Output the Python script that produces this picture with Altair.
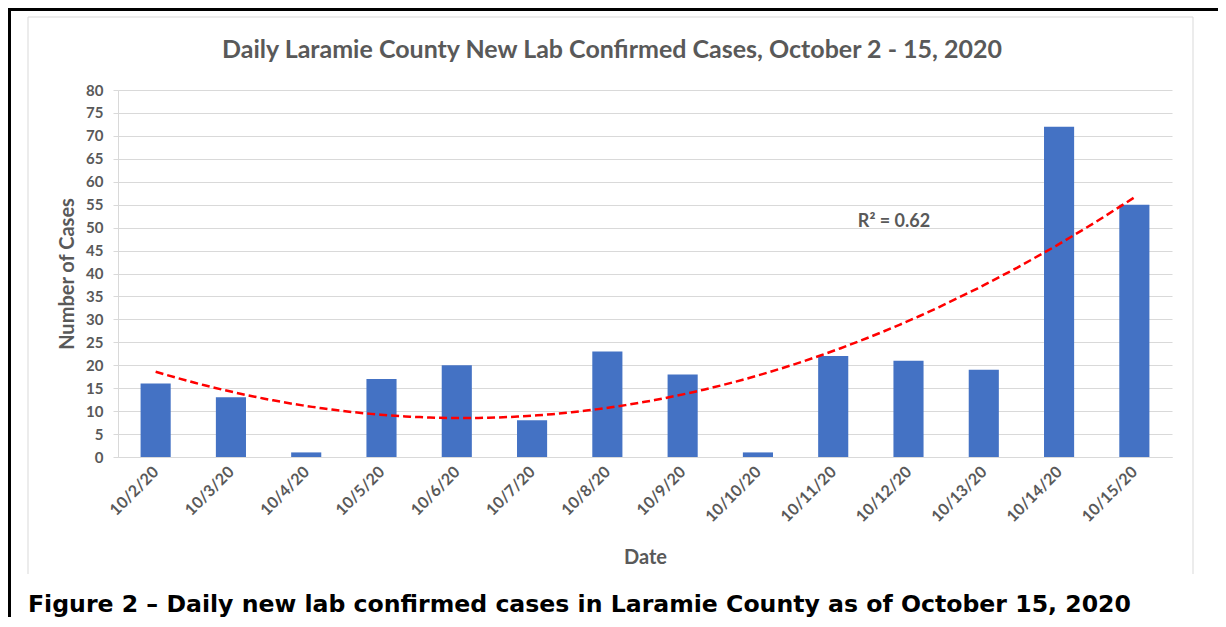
import altair as alt
import pandas as pd

# ---- data ----
dates = ["10/2/20", "10/3/20", "10/4/20", "10/5/20", "10/6/20", "10/7/20", "10/8/20",
         "10/9/20", "10/10/20", "10/11/20", "10/12/20", "10/13/20", "10/14/20", "10/15/20"]
cases = [16, 13, 1, 17, 20, 8, 23, 18, 1, 22, 21, 19, 72, 55]
y_ticks = list(range(0, 85, 5))
title_text = "Daily Laramie County New Lab Confirmed Cases, October 2 - 15, 2020"
caption_text = "Figure 2 \u2013 Daily new lab confirmed cases in Laramie County as of October 15, 2020"
r2_text = "R\u00b2 = 0.62"

df = pd.DataFrame({"idx": list(range(len(dates))), "date": dates, "cases": cases})
one = pd.DataFrame({"a": [0]})

W, H = 1054, 367
GRAY = "#595959"
LINE = "#d9d9d9"

x_scale = alt.Scale(domain=[-0.5, len(dates) - 0.5], nice=False, zero=False)
y_scale = alt.Scale(domain=[0, 80], nice=False)

label_expr = "[" + ",".join(f"'{d}'" for d in dates) + "][datum.value]"

x_axis = alt.Axis(
    values=list(range(len(dates))), labelExpr=label_expr, grid=False, ticks=False,
    domainColor=LINE, domainWidth=1, labelAngle=-45, labelAlign="right", labelBaseline="middle",
    labelPadding=12, labelFont="Lato", labelFontWeight="bold", labelFontSize=16, labelColor=GRAY,
    labelOverlap=False,
    title="Date", titleFont="Lato", titleFontWeight="bold", titleFontSize=20, titleColor=GRAY,
    titleY=100, titleBaseline="middle",
)
y_axis = alt.Axis(
    values=y_ticks, grid=True, gridColor=LINE, gridWidth=1, domainColor=LINE, tickColor=LINE,
    tickSize=5, labelPadding=10, labelFont="Lato", labelFontWeight="bold", labelFontSize=15,
    labelColor=GRAY, labelOverlap=False, title="Number of Cases", titleFont="Lato",
    titleFontWeight="bold", titleFontSize=20, titleColor=GRAY, titleX=-51, titleY=H / 2,
    titleAngle=-90, titleBaseline="middle", titleAlign="center",
)

bars = alt.Chart(df).transform_calculate(
    x0="datum.idx - 0.2", x1="datum.idx + 0.2"
).mark_bar(color="#4472C4").encode(
    x=alt.X("x0:Q", scale=x_scale, axis=x_axis),
    x2="x1:Q",
    y=alt.Y("cases:Q", scale=y_scale, axis=y_axis),
    y2=alt.datum(0),
)

trend = alt.Chart(df).transform_regression(
    "idx", "cases", method="poly", order=2
).mark_line(color="#FF0000", strokeDash=[8, 4], strokeWidth=2.5).encode(
    x=alt.X("idx:Q", scale=x_scale, axis=x_axis),
    y=alt.Y("cases:Q", scale=y_scale, axis=y_axis),
)

r2 = alt.Chart(one).mark_text(
    text=r2_text, font="Lato", fontWeight="bold", fontSize=18, color=GRAY,
    align="center", baseline="alphabetic",
).encode(x=alt.value(776), y=alt.value(137))

title = alt.Chart(one).mark_text(
    text=title_text, font="Lato", fontWeight="bold", fontSize=25, color=GRAY,
    align="center", baseline="alphabetic",
).encode(x=alt.value(494), y=alt.value(-32))

caption = alt.Chart(one).mark_text(
    text=caption_text, font="DejaVu Sans", fontWeight="bold", fontSize=23.6, color="#000000",
    align="left", baseline="alphabetic",
).encode(x=alt.value(-90), y=alt.value(522))

# decorative frames
inner_left = alt.Chart(one).mark_rule(color=LINE, strokeWidth=1).encode(
    x=alt.value(-90), y=alt.value(-73), y2=alt.value(484))
inner_right = alt.Chart(one).mark_rule(color=LINE, strokeWidth=1).encode(
    x=alt.value(1075), y=alt.value(-73), y2=alt.value(484))
inner_top = alt.Chart(one).mark_rule(color=LINE, strokeWidth=1).encode(
    x=alt.value(-90), x2=alt.value(1075), y=alt.value(-73))
outer_left = alt.Chart(one).mark_rule(color="#000000", strokeWidth=3).encode(
    x=alt.value(-108.5), y=alt.value(-80.5), y2=alt.value(540))
outer_top = alt.Chart(one).mark_rule(color="#000000", strokeWidth=3).encode(
    x=alt.value(-110), x2=alt.value(1110), y=alt.value(-80.5))

chart = alt.layer(
    inner_left, inner_right, inner_top, outer_left, outer_top,
    bars, trend, r2, title, caption,
).properties(
    width=W, height=H,
    padding={"left": 110, "top": 82, "right": 46, "bottom": 160},
    autosize=alt.AutoSizeParams(type="none"),
    background="white",
).configure_view(stroke=None)

chart.save("out.html", embed_options={"renderer": "svg", "actions": False})
